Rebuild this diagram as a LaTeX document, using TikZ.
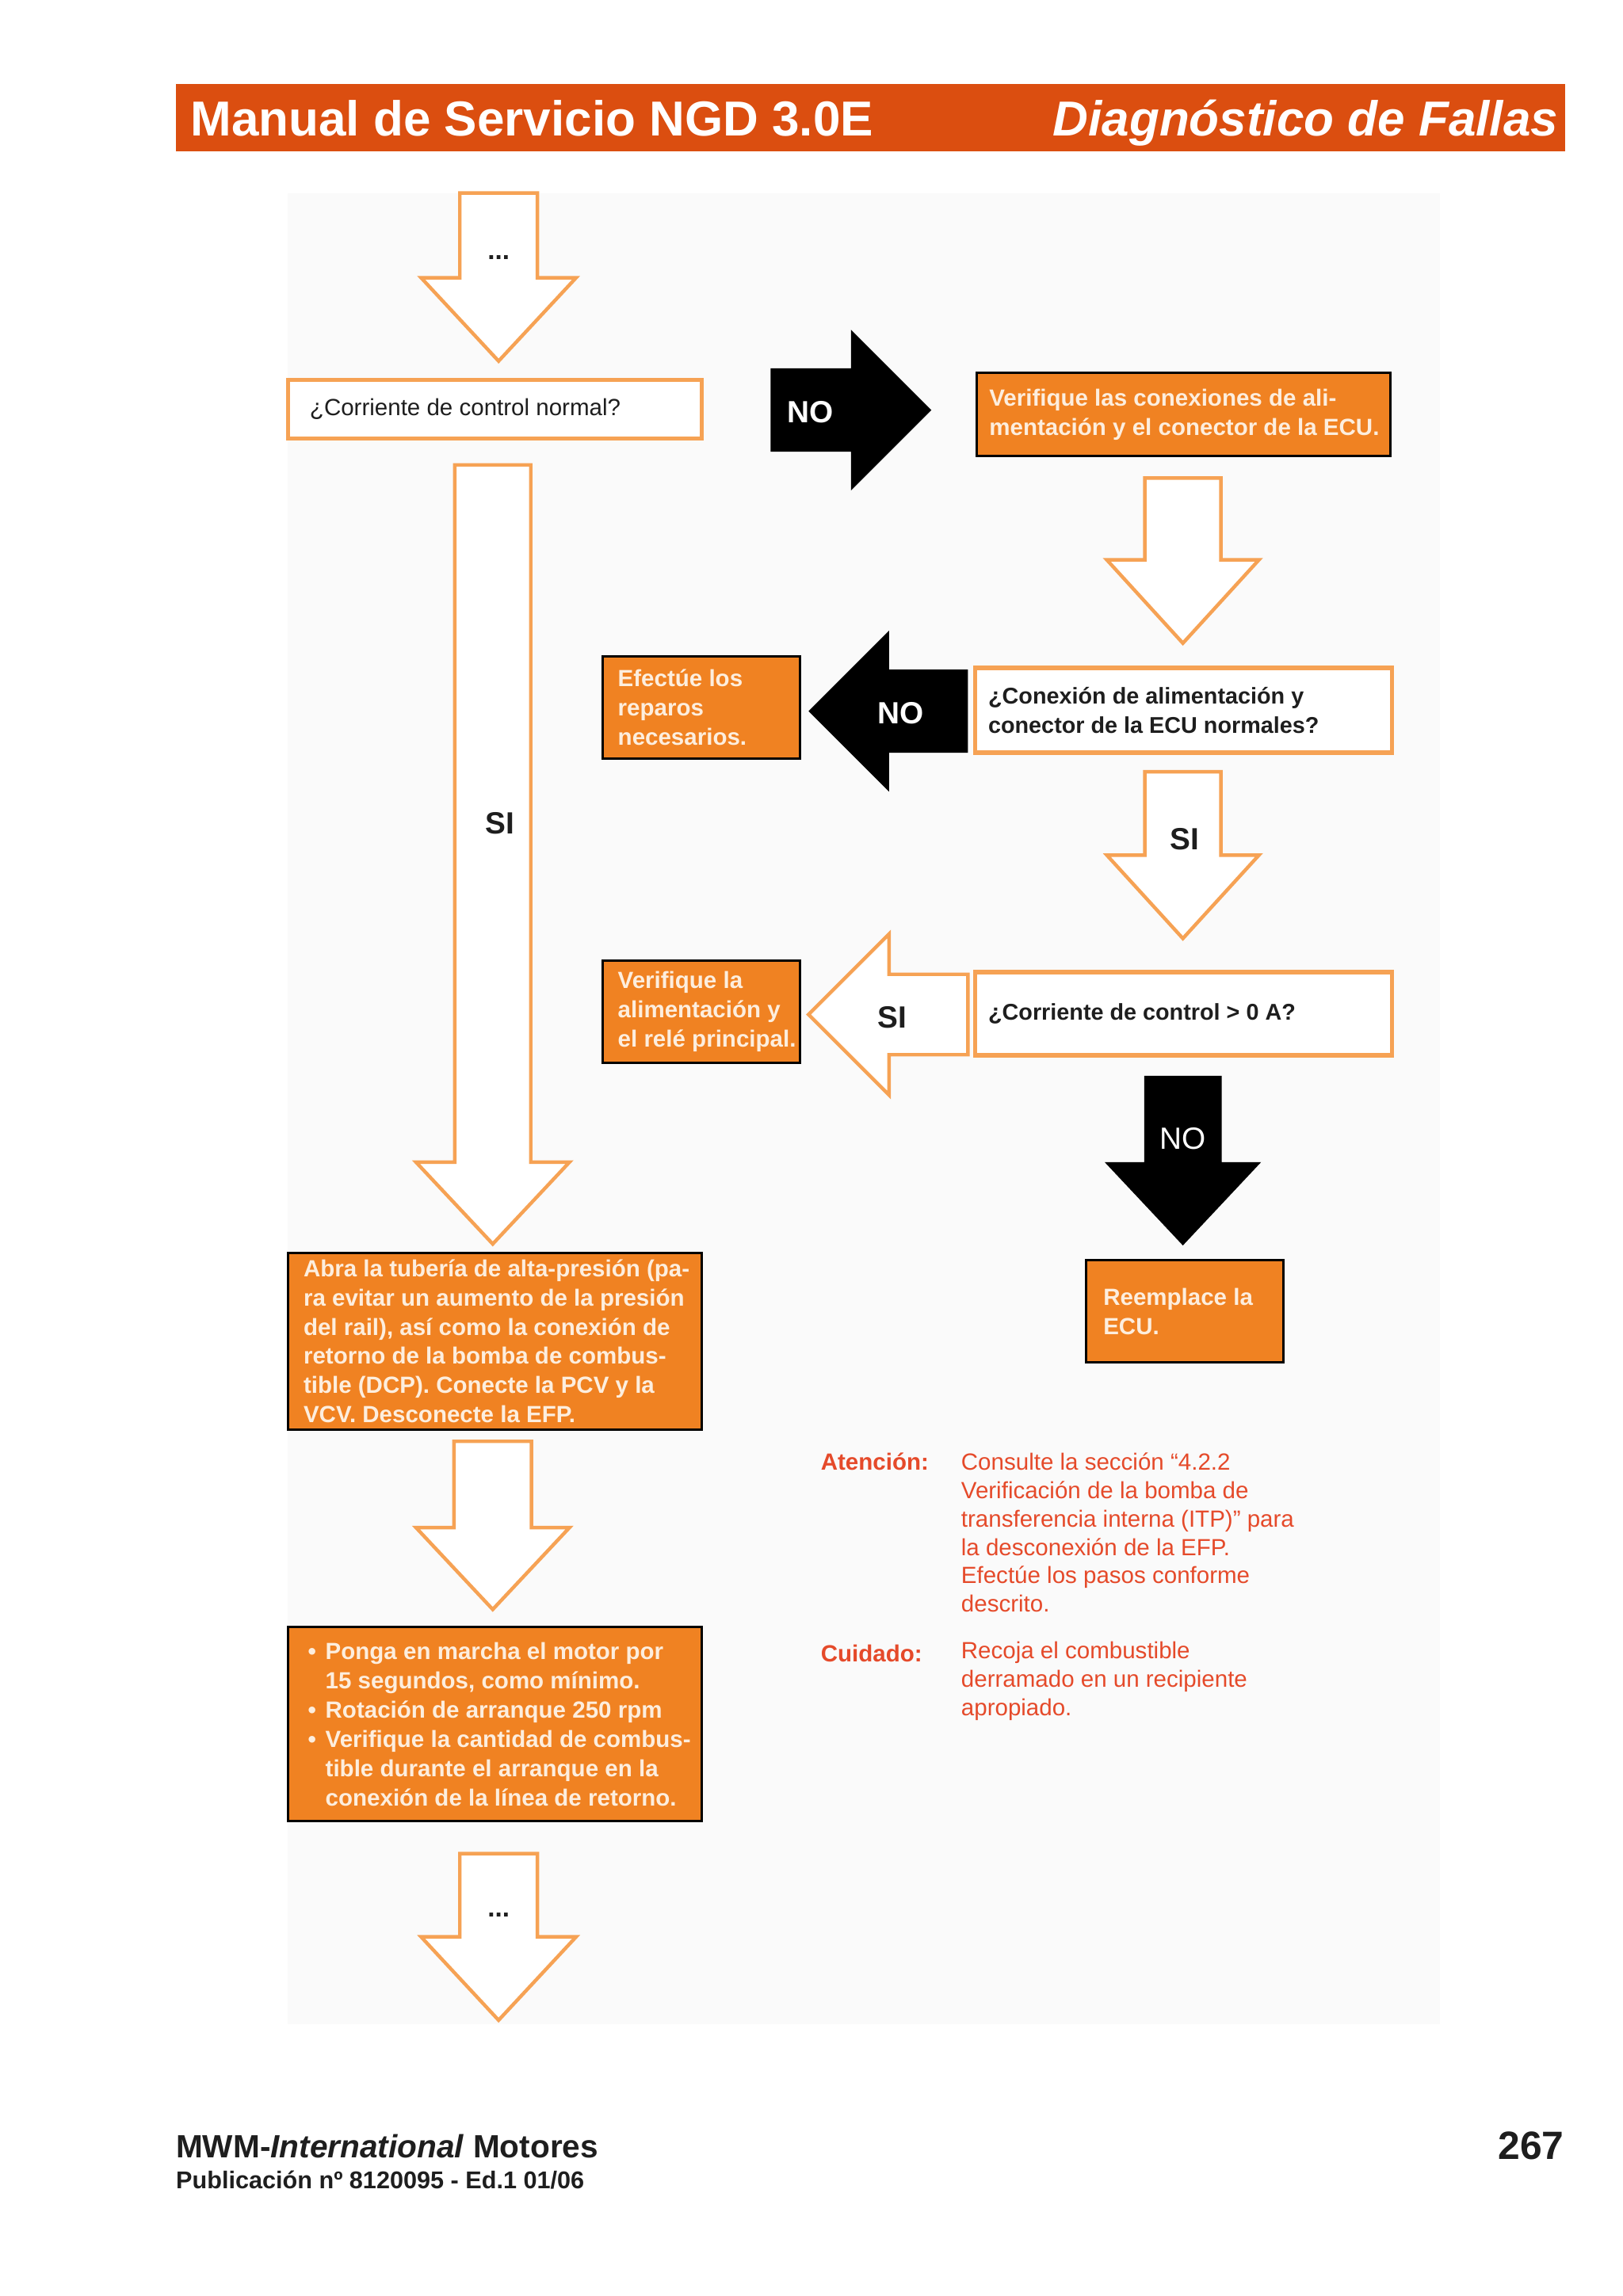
\documentclass[tikz,border=0pt]{standalone}
\usepackage{fontspec}
\setmainfont{Liberation Sans}
\definecolor{hdr}{RGB}{219,78,16}
\definecolor{boxor}{RGB}{240,130,34}
\definecolor{lnor}{RGB}{246,162,84}
\definecolor{cream}{RGB}{253,238,222}
\definecolor{warn}{RGB}{229,74,42}
\definecolor{ink}{RGB}{30,30,30}
\definecolor{panel}{RGB}{250,250,250}
% down arrow: style, cx, top, neck, tip, half shaft, half head
\newcommand\dnarrow[7]{%
 \path[#1] ({#2-#6},#3) -- ({#2+#6},#3) -- ({#2+#6},#4) -- ({#2+#7},#4) -- (#2,#5) -- ({#2-#7},#4) -- ({#2-#6},#4) -- cycle;}
% horizontal arrow: style, tail x, neck x, tip x, cy, half shaft, half head
\newcommand\hzarrow[7]{%
 \path[#1] (#2,{#5-#6}) -- (#3,{#5-#6}) -- (#3,{#5-#7}) -- (#4,#5) -- (#3,{#5+#7}) -- (#3,{#5+#6}) -- (#2,{#5+#6}) -- cycle;}
\begin{document}
\begin{tikzpicture}[x=0.5pt,y=-0.5pt,
  oarrow/.style={draw=lnor, line width=1.2pt, fill=white, line join=miter},
  barrow/.style={fill=black},
  qbox/.style={draw=lnor, line width=1.5pt, fill=white, inner sep=0pt},
  abox/.style={draw=black, line width=0.8pt, fill=boxor, inner sep=0pt},
  atext/.style={text=cream, font=\bfseries\fontsize{8}{10}\selectfont, align=left, inner sep=0pt, anchor=west},
  qtext/.style={text=ink, font=\bfseries\fontsize{7.8}{10}\selectfont, align=left, inner sep=0pt, anchor=west},
  qtextr/.style={text=ink, font=\fontsize{8}{10}\selectfont, align=left, inner sep=0pt, anchor=west},
  lbl/.style={font=\bfseries\fontsize{10.5}{12}\selectfont, inner sep=0pt},
  dots/.style={font=\bfseries\fontsize{9}{10}\selectfont, text=ink, inner sep=0pt},
  wlab/.style={text=warn, font=\bfseries\fontsize{8}{9.7}\selectfont, inner sep=0pt, anchor=west},
  wbody/.style={text=warn, font=\fontsize{8}{9.7}\selectfont, align=left, inner sep=0pt, anchor=west}
]
\useasboundingbox (0,0) rectangle (1110,1570.7);
\fill[white] (0,0) rectangle (1110,1570.7);
\fill[panel] (197,132) rectangle (985,1385);

% header
\node[fill=hdr, minimum width=475pt, minimum height=23pt, inner sep=0pt, anchor=north west] (hdr) at (120,57) {};
\node[text=white, font=\bfseries\fontsize{16.8}{18}\selectfont, anchor=base west, inner sep=0pt] (hl) at (130,93) {Manual de Servicio NGD 3.0E};
\node[text=white, font=\bfseries\itshape\fontsize{16.8}{18}\selectfont, anchor=base east, inner sep=0pt] (hr) at (1066,93) {Diagnóstico de Fallas};

% arrows
\dnarrow{oarrow}{341}{132}{190}{247}{26.5}{53}
\node[dots] (d1) at (341,176) {...};
\hzarrow{barrow}{527}{582}{637}{280.5}{28.5}{55}
\node[lbl, text=white] (no1) at (554,282) {NO};
\dnarrow{oarrow}{809}{327}{383}{440}{26}{52}
\dnarrow{oarrow}{337}{318}{795}{851}{26}{52.5}
\node[lbl, text=ink] (si1) at (342,563) {SI};
\hzarrow{barrow}{662}{608}{553}{486.5}{28.5}{55}
\node[lbl, text=white] (no2) at (616,488) {NO};
\dnarrow{oarrow}{809}{528}{585}{642}{26}{52}
\node[lbl, text=ink] (si2) at (810,574) {SI};
\hzarrow{oarrow}{662}{608}{553}{694}{27.5}{55}
\node[lbl, text=ink] (si3) at (610,696) {SI};
\dnarrow{barrow}{809}{736}{795}{852}{26.5}{53.5}
\node[text=white, font=\fontsize{10.5}{12}\selectfont, inner sep=0pt] (no3) at (809,779) {NO};
\dnarrow{oarrow}{337}{986}{1045}{1101}{26.5}{52.5}
\dnarrow{oarrow}{341}{1268}{1325}{1382}{26.5}{53}
\node[dots] (d2) at (341,1310) {...};

% boxes
\node[qbox, minimum width=141.5pt, minimum height=20pt] (q1) at (338.5,280) {};
\node[qtextr] (q1t) at ([xshift=8pt]q1.west) {¿Corriente de control normal?};

\node[abox, minimum width=141.5pt, minimum height=28.5pt] (a1) at (809.5,283.5) {};
\node[atext] (a1t) at ([xshift=4.5pt]a1.west) {Verifique las conexiones de ali-\\mentación y el conector de la ECU.};

\node[qbox, minimum width=142.5pt, minimum height=29pt] (q2) at (809.5,486) {};
\node[qtext] (q2t) at ([xshift=5pt]q2.west) {¿Conexión de alimentación y\\conector de la ECU normales?};

\node[abox, minimum width=67.5pt, minimum height=35pt] (a2) at (479.5,484) {};
\node[atext] (a2t) at ([xshift=5.5pt]a2.west) {Efectúe los\\reparos\\necesarios.};

\node[abox, minimum width=67.5pt, minimum height=35pt] (a3) at (479.5,692) {};
\node[atext] (a3t) at ([xshift=5.5pt]a3.west) {Verifique la\\alimentación y\\el relé principal.};

\node[qbox, minimum width=142.5pt, minimum height=28.5pt] (q3) at (809.5,693.5) {};
\node[qtext] (q3t) at ([xshift=5pt]q3.west) {¿Corriente de control > 0 A?};

\node[abox, minimum width=67.5pt, minimum height=35pt] (a4) at (810.5,897) {};
\node[atext] (a4t) at ([xshift=6pt]a4.west) {Reemplace la\\ECU.};

\node[abox, minimum width=141.5pt, minimum height=60.5pt] (a5) at (338.5,917.5) {};
\node[atext] (a5t) at ([xshift=5.5pt]a5.west) {Abra la tubería de alta-presión (pa-\\ra evitar un aumento de la presión\\del rail), así como la conexión de\\retorno de la bomba de combus-\\tible (DCP). Conecte la PCV y la\\VCV. Desconecte la EFP.};

\node[abox, minimum width=141.5pt, minimum height=66.5pt] (a6) at (338.5,1179.5) {};
\node[atext] (a6t) at ([xshift=7pt]a6.west) {\makebox[6pt][l]{•}Ponga en marcha el motor por\\\hspace*{6pt}15 segundos, como mínimo.\\\makebox[6pt][l]{•}Rotación de arranque 250 rpm\\\makebox[6pt][l]{•}Verifique la cantidad de combus-\\\hspace*{6pt}tible durante el arranque en la\\\hspace*{6pt}conexión de la línea de retorno.};

% notes
\node[wlab] (at) at (561,1000) {Atención:};
\node[wbody] (atb) at (657,1048.5) {Consulte la sección “4.2.2\\Verificación de la bomba de\\transferencia interna (ITP)” para\\la desconexión de la EFP.\\Efectúe los pasos conforme\\descrito.};
\node[wlab] (cu) at (561,1131) {Cuidado:};
\node[wbody] (cub) at (657,1150) {Recoja el combustible\\derramado en un recipiente\\apropiado.};

% footer
\node[text=ink, font=\bfseries\fontsize{11}{13}\selectfont, anchor=base west, inner sep=0pt] (f1) at (120,1476) {MWM-\textit{International} Motores};
\node[text=ink, font=\bfseries\fontsize{8.3}{10}\selectfont, anchor=base west, inner sep=0pt] (f2) at (120,1497) {Publicación nº 8120095 - Ed.1 01/06};
\node[text=ink, font=\bfseries\fontsize{13.5}{15}\selectfont, anchor=base east, inner sep=0pt] (pg) at (1070,1477) {267};
\end{tikzpicture}
\end{document}
